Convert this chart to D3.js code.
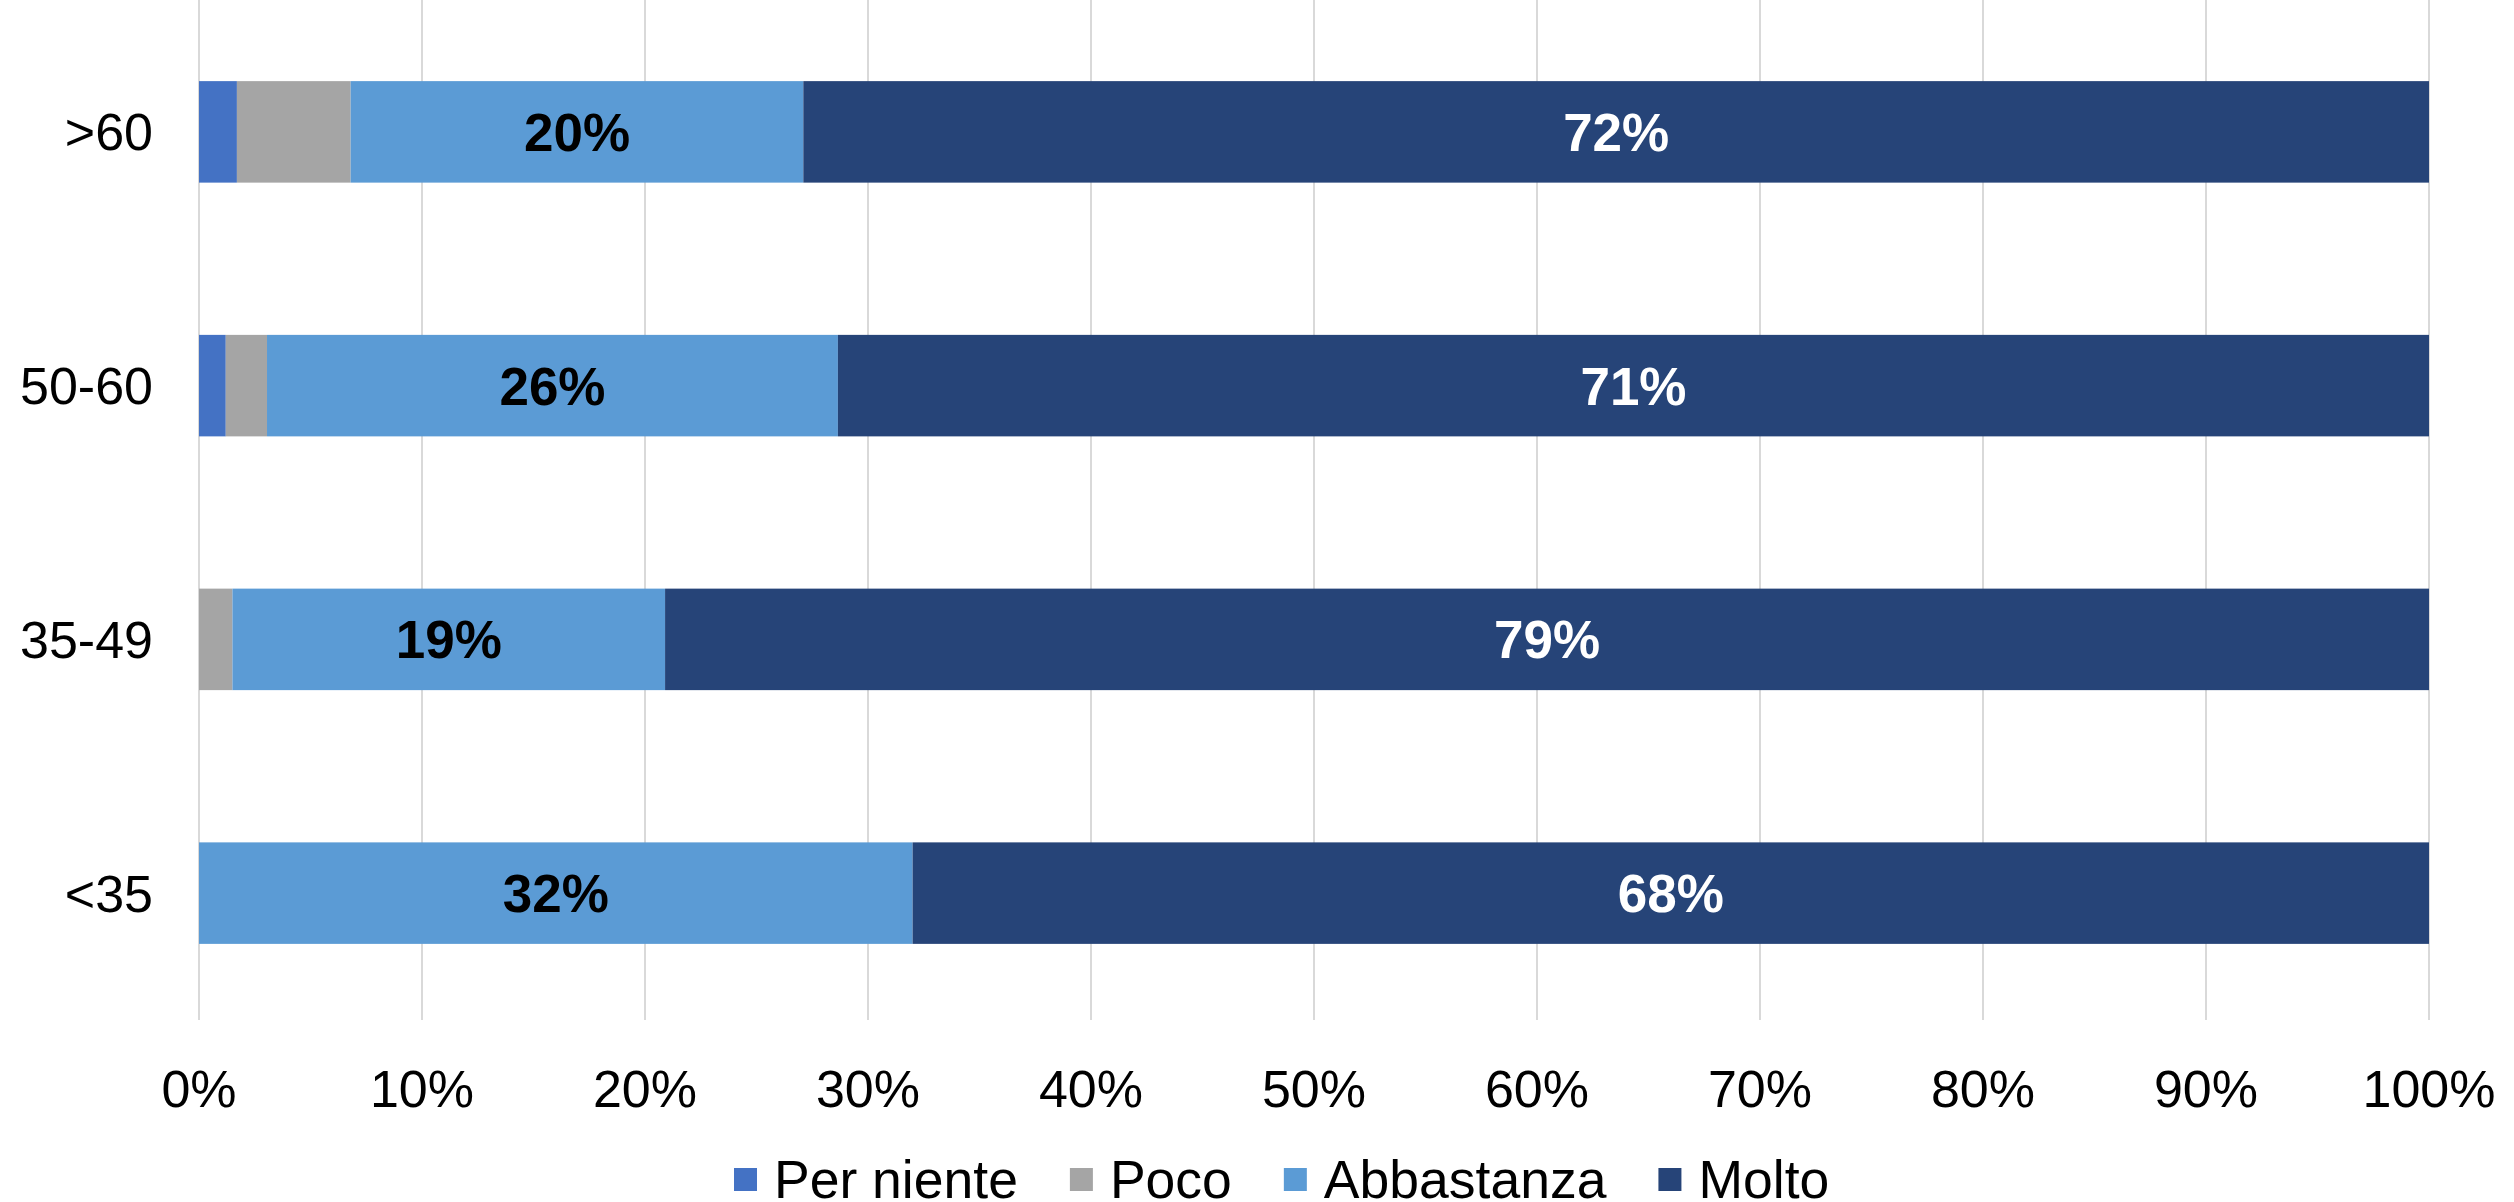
<!DOCTYPE html>
<html><head><meta charset="utf-8">
<script src="https://cdn.jsdelivr.net/npm/d3@7"></script>
<style>body{margin:0;background:#fff}svg{display:block}text{font-family:"Liberation Sans",Arial,sans-serif}</style>
</head><body>
<svg id="c" width="2514" height="1202"></svg>
<script>
const categories = [">60", "50-60", "35-49", "<35"];
const seriesNames = ["Per niente", "Poco", "Abbastanza", "Molto"];
const perNiente = [1.7, 1.2, 0, 0];
const poco = [5.1, 1.85, 1.5, 0];
const abbastanza = [20.3, 25.6, 19.4, 32.0];
const molto = [72.9, 71.35, 79.1, 68.0];
const abbLabels = ["20%", "26%", "19%", "32%"];
const moltoLabels = ["72%", "71%", "79%", "68%"];
const xTicks = [0,10,20,30,40,50,60,70,80,90,100];
const colors = ["#4472C4", "#A5A5A5", "#5B9BD5", "#264478"];

(function(){
const svg = d3.select("#c");
const mLeft = 199, mRight = 2429, mTop = 5, mBottom = 1020;
const x = d3.scaleLinear().domain([0,100]).range([mLeft,mRight]);
const y = d3.scaleBand().domain(categories).range([mTop,mBottom]).paddingInner(0.6).paddingOuter(0.3);

svg.append("g").selectAll("line").data(xTicks).join("line")
  .attr("x1", d=>x(d)).attr("x2", d=>x(d)).attr("y1", 0).attr("y2", mBottom)
  .attr("stroke", "#D9D9D9").attr("stroke-width", 2);

const keys = [0,1,2,3];
const stackData = categories.map((c,i)=>{const vals=[perNiente[i], poco[i], abbastanza[i], molto[i]]; const o={cat:c}; keys.forEach(k=>o[k]=vals[k]); return o;});
const stacked = d3.stack().keys(keys)(stackData);

svg.append("g").selectAll("g").data(stacked).join("g")
  .attr("fill", (d,i)=>colors[i])
  .selectAll("rect").data(d=>d).join("rect")
  .attr("x", d=>x(d[0])).attr("width", d=>Math.max(0, x(d[1])-x(d[0])))
  .attr("y", d=>y(d.data.cat)).attr("height", y.bandwidth());

const fs = 53, capOff = 0.716*fs/2;
const lblG = svg.append("g").attr("font-weight","bold").attr("font-size", fs).attr("text-anchor","middle");
stacked[2].forEach((d,i)=>{
  lblG.append("text").attr("x",(x(d[0])+x(d[1]))/2).attr("y", y(d.data.cat)+y.bandwidth()/2+capOff)
    .attr("fill","#000").text(abbLabels[i]);
});
stacked[3].forEach((d,i)=>{
  lblG.append("text").attr("x",(x(d[0])+x(d[1]))/2).attr("y", y(d.data.cat)+y.bandwidth()/2+capOff)
    .attr("fill","#fff").text(moltoLabels[i]);
});

const afs = 52, acap = 0.716*afs/2;
svg.append("g").selectAll("text").data(xTicks).join("text")
  .attr("x", d=>x(d)).attr("y", 1088+acap).attr("text-anchor","middle")
  .attr("font-size", afs).attr("fill","#000").text(d=>d+"%");
svg.append("g").selectAll("text").data(categories).join("text")
  .attr("x", 153).attr("y", d=>y(d)+y.bandwidth()/2+acap).attr("text-anchor","end")
  .attr("font-size", afs).attr("fill","#000").text(d=>d);

const lfs = 53.5, lcap = 0.716*lfs/2;
const leg = svg.append("g");
let lx = 734;
const ly = 1179;
seriesNames.forEach((n,i)=>{
  leg.append("rect").attr("x", lx).attr("y", ly-11).attr("width",23).attr("height",23).attr("fill",colors[i]);
  const t = leg.append("text").attr("x", lx+40).attr("y", ly+lcap).attr("font-size", lfs).attr("fill","#000").text(n);
  lx = lx + 40 + t.node().getComputedTextLength() + 52;
});
})();
</script>
</body></html>
